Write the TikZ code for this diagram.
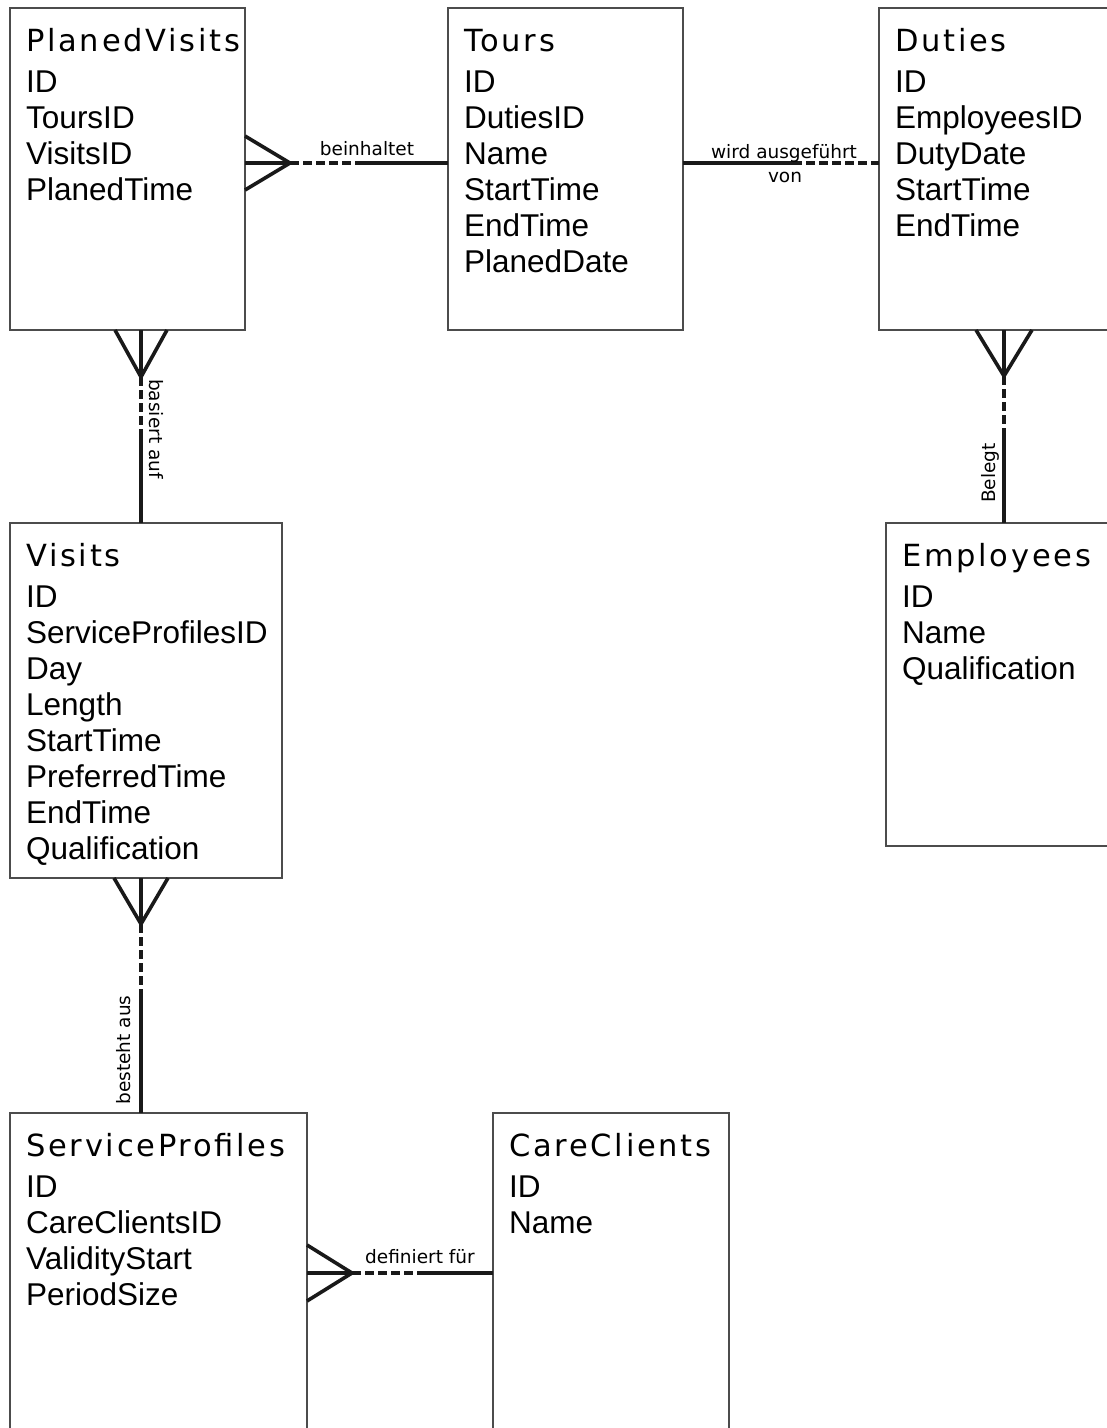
\documentclass[tikz,border=0pt]{standalone}
\usepackage{fontspec}
\setmainfont{Liberation Sans}
\newfontfamily\headfont[LetterSpace=9]{DejaVu Sans}
\newfontfamily\labelfont{DejaVu Sans}

% fills an entity box: title line and one line per attribute
\newcommand\erentity[3]{%
  \node[head] (#1-t) at ([shift={(16,43)}]#1.north west) {#2};
  \foreach \t [count=\i from 0] in {#3}
    \node[attr] (#1-\i) at ([shift={(16,{84+36*\i})}]#1.north west) {\t};}

\begin{document}
\begin{tikzpicture}[x=1pt,y=-1pt,
  entity/.style={draw=black!70,line width=1.4pt,fill=white,rectangle,
    anchor=north west,inner sep=0pt,outer sep=0pt},
  head/.style={anchor=base west,inner sep=0pt,font=\headfont\fontsize{30.5}{34}\selectfont},
  attr/.style={anchor=base west,inner sep=0pt,font=\fontsize{31.5}{36}\selectfont},
  rel/.style={line width=3.6pt,draw=black!90},
  opt/.style={rel,dash pattern=on 9pt off 4pt},
  lbl/.style={inner sep=0pt,font=\labelfont\fontsize{18.5}{20}\selectfont}]
\useasboundingbox (0,0) rectangle (1107,1428);
\clip (0,0) rectangle (1107,1428);

% entity boxes
\node[entity,minimum width=235pt,minimum height=322pt] (pv) at (10,8) {};
\node[entity,minimum width=235pt,minimum height=322pt] (tours) at (448,8) {};
\node[entity,minimum width=260pt,minimum height=322pt] (duties) at (879,8) {};
\node[entity,minimum width=272pt,minimum height=355pt] (visits) at (10,523) {};
\node[entity,minimum width=250pt,minimum height=323pt] (emp) at (886,523) {};
\node[entity,minimum width=297pt,minimum height=340pt] (sp) at (10,1113) {};
\node[entity,minimum width=236pt,minimum height=340pt] (cc) at (493,1113) {};

\erentity{pv}{PlanedVisits}{ID,ToursID,VisitsID,PlanedTime}
\erentity{tours}{Tours}{ID,DutiesID,Name,StartTime,EndTime,PlanedDate}
\erentity{duties}{Duties}{ID,EmployeesID,DutyDate,StartTime,EndTime}
\erentity{visits}{Visits}{ID,ServiceProfilesID,Day,Length,StartTime,PreferredTime,EndTime,Qualification}
\erentity{emp}{Employees}{ID,Name,Qualification}
\erentity{sp}{ServiceProfiles}{ID,CareClientsID,ValidityStart,PeriodSize}
\erentity{cc}{CareClients}{ID,Name}

% PlanedVisits -- Tours
\coordinate (f1) at (290,163);
\coordinate (m1) at (360,163);
\draw[rel] (pv.east |- 0,136) -- (f1) -- (pv.east |- 0,190);
\draw[rel] (pv.east |- f1) -- (f1);
\draw[opt] (f1) -- (m1);
\draw[rel] (m1) -- (tours.west |- f1);
\node[lbl,anchor=base] (l1) at (367,155) {beinhaltet};

% Tours -- Duties
\coordinate (m2) at (793,163);
\draw[rel] (tours.east |- m2) -- (m2);
\draw[opt] (m2) -- (duties.west |- m2);
\node[lbl,anchor=base] (l2) at (784,158) {wird ausgeführt};
\node[lbl,anchor=base] (l2b) at (785,182) {von};

% PlanedVisits -- Visits
\coordinate (f3) at (141,377);
\coordinate (m3) at (141,435);
\draw[rel] (pv.south -| 115,0) -- (f3) -- (pv.south -| 167,0);
\draw[rel] (pv.south -| f3) -- (f3);
\draw[opt] (f3) -- (m3);
\draw[rel] (m3) -- (visits.north -| f3);
\node[lbl,rotate=-90] (l3) at (156,429) {basiert auf};

% Duties -- Employees
\coordinate (f4) at (1004,376);
\coordinate (m4) at (1004,435);
\draw[rel] (duties.south -| 976,0) -- (f4) -- (duties.south -| 1032,0);
\draw[rel] (duties.south -| f4) -- (f4);
\draw[opt] (f4) -- (m4);
\draw[rel] (m4) -- (emp.north -| f4);
\node[lbl,rotate=90] (l4) at (990,473) {Belegt};

% Visits -- ServiceProfiles
\coordinate (f5) at (141,924);
\coordinate (m5) at (141,998);
\draw[rel] (visits.south -| 114,0) -- (f5) -- (visits.south -| 168,0);
\draw[rel] (visits.south -| f5) -- (f5);
\draw[opt] (f5) -- (m5);
\draw[rel] (m5) -- (sp.north -| f5);
\node[lbl,rotate=90] (l5) at (124,1050) {besteht aus};

% ServiceProfiles -- CareClients
\coordinate (f6) at (352,1273);
\coordinate (m6) at (422,1273);
\draw[rel] (sp.east |- 0,1245) -- (f6) -- (sp.east |- 0,1301);
\draw[rel] (sp.east |- f6) -- (f6);
\draw[opt] (f6) -- (m6);
\draw[rel] (m6) -- (cc.west |- f6);
\node[lbl,anchor=base] (l6) at (420,1263) {definiert für};
\end{tikzpicture}
\end{document}
